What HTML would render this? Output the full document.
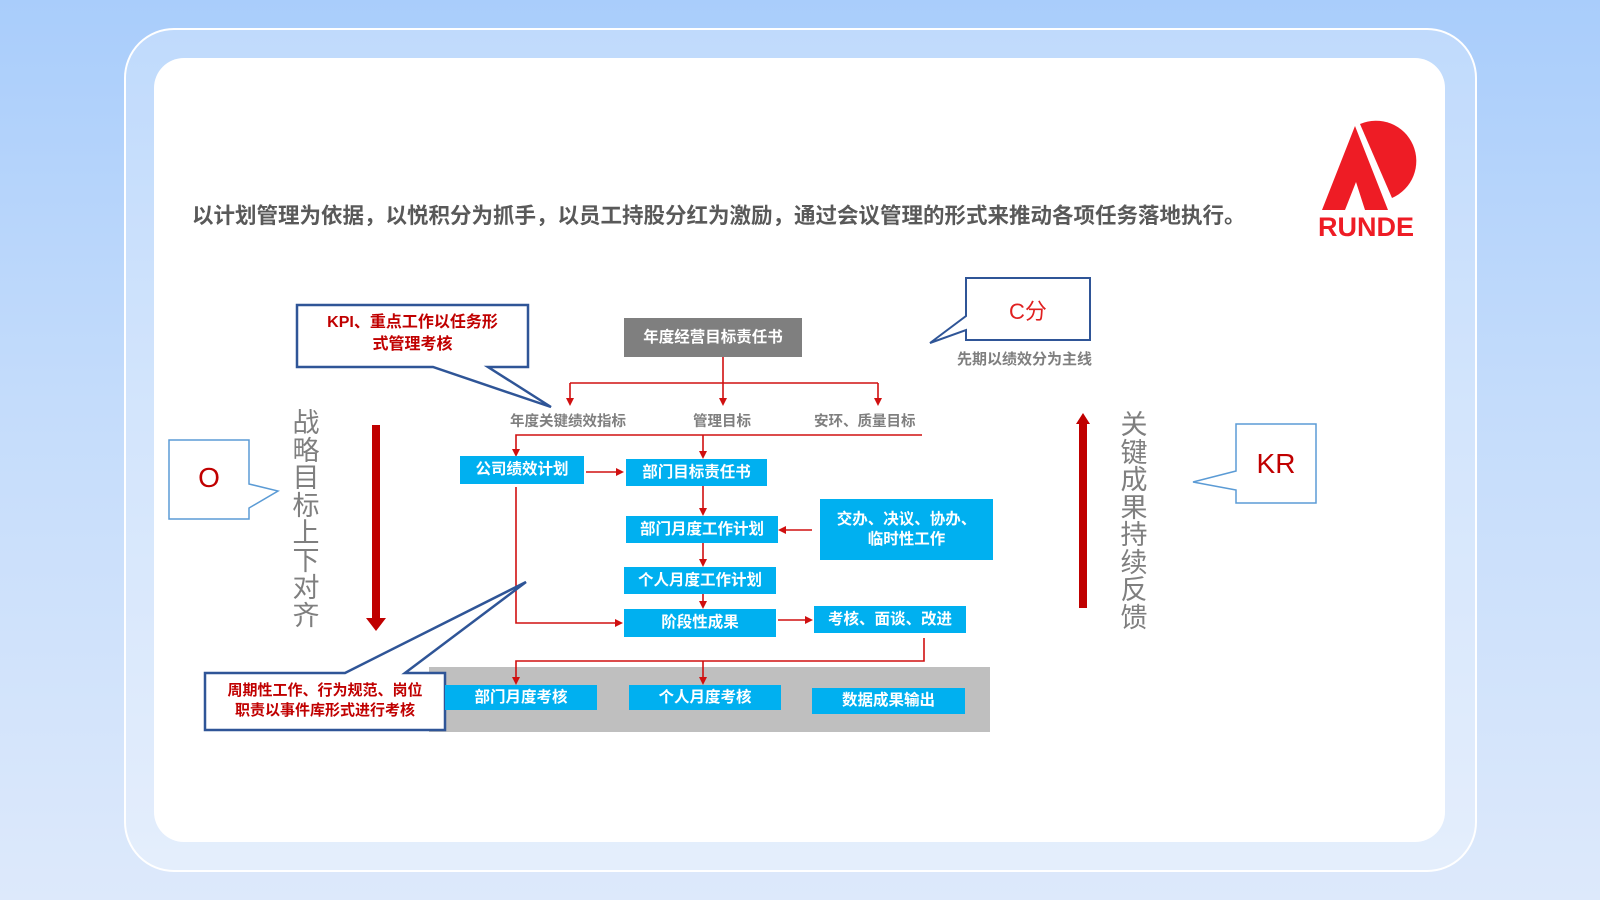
<!DOCTYPE html>
<html><head><meta charset="utf-8"><style>
*{margin:0;padding:0;box-sizing:border-box}
body{width:1600px;height:900px;overflow:hidden;position:relative;background:linear-gradient(180deg,#a9cdfb 0%,#c4dcfb 45%,#dde9fb 100%);font-family:"Liberation Sans","Noto Sans CJK SC",sans-serif}
.a{position:absolute}
.outer{left:124px;top:28px;width:1353px;height:844px;border:2px solid #fff;border-radius:50px;background:rgba(255,255,255,0.25)}
.inner{left:154px;top:58px;width:1291px;height:784px;border-radius:30px;background:#fff}
.b{position:absolute;background:#00b0f0;color:#fff;font-weight:bold;font-size:15.5px;display:flex;align-items:center;justify-content:center;text-align:center;line-height:20px}
.g{position:absolute;color:#7f7f7f;font-size:14.5px;font-weight:bold;white-space:nowrap}
.v{position:absolute;color:#7f7f7f;font-size:27px;line-height:27.5px;width:30px;text-align:center}
</style></head><body>
<div class="a outer"></div>
<div class="a inner"></div>
<div class="a" style="left:192px;top:199px;font-size:21.5px;font-weight:bold;color:#595959;white-space:nowrap">以计划管理为依据，以悦积分为抓手，以员工持股分红为激励，通过会议管理的形式来推动各项任务落地执行。</div>

<svg class="a" style="left:0;top:0" width="1600" height="900">
<defs><marker id="ar" markerWidth="8" markerHeight="8" refX="6" refY="4" orient="auto" markerUnits="userSpaceOnUse"><path d="M0,0 L8,4 L0,8 z" fill="#d01010"/></marker></defs>
<path d="M1355,126 L1322,210 L1345,210 L1356,182 L1365,210 L1388,210 Z" fill="#ee1c25"/>
<path d="M1360,124 A40,40 0 0 1 1392,198 Z" fill="#ee1c25"/>
<text x="1366" y="236" font-family="Liberation Sans" font-weight="bold" font-size="27" fill="#ee1c25" text-anchor="middle">RUNDE</text>
<rect x="429" y="667" width="561" height="65" fill="#bfbfbf"/>
<g stroke="#d01010" stroke-width="1.6" fill="none">
<path d="M723,357 V404" marker-end="url(#ar)"/>
<path d="M570,383 H878"/>
<path d="M570,383 V404" marker-end="url(#ar)"/>
<path d="M878,383 V404" marker-end="url(#ar)"/>
<path d="M922,435 H516 V455" marker-end="url(#ar)"/>
<path d="M703,435 V457" marker-end="url(#ar)"/>
<path d="M586,472 H622" marker-end="url(#ar)"/>
<path d="M703,486 V514" marker-end="url(#ar)"/>
<path d="M812,530 H780" marker-end="url(#ar)"/>
<path d="M703,543 V565" marker-end="url(#ar)"/>
<path d="M703,590 V607" marker-end="url(#ar)"/>
<path d="M516,487 V623 H621" marker-end="url(#ar)"/>
<path d="M778,620 H811" marker-end="url(#ar)"/>
<path d="M924,638 V661 H516 V683" marker-end="url(#ar)"/>
<path d="M703,661 V683" marker-end="url(#ar)"/>
</g>
<rect x="372" y="425" width="8" height="195" fill="#c00000"/><path d="M366,618 L386,618 L376,631 Z" fill="#c00000"/>
<rect x="1079" y="422" width="8" height="186" fill="#c00000"/><path d="M1076,424 L1090,424 L1083,413 Z" fill="#c00000"/>
<path d="M297,305 H528 V367 H488 L551,407 L433,367 H297 Z" fill="#fff" stroke="#2f5597" stroke-width="2.5"/>
<path d="M205,673 H345 L526,582 L405,673 H445 V730 H205 Z" fill="#fff" stroke="#2f5597" stroke-width="2.5"/>
<path d="M169,440 H249 V484 L278,491 L249,508 V519 H169 Z" fill="#fff" stroke="#5b9bd5" stroke-width="1.5"/>
<path d="M966,278 H1090 V340 H966 V330 L930,343 L966,316 Z" fill="#fff" stroke="#2f5597" stroke-width="2"/>
<path d="M1236,424 H1316 V503 H1236 V490 L1193,482 L1236,471 Z" fill="#fff" stroke="#5b9bd5" stroke-width="1.5"/>
</svg>

<div class="a" style="left:297px;top:312px;width:231px;text-align:center;color:#c00000;font-weight:bold;font-size:16px;line-height:22px">KPI、重点工作以任务形<br>式管理考核</div>
<div class="a" style="left:205px;top:681px;width:240px;text-align:center;color:#c00000;font-weight:bold;font-size:15px;line-height:20px">周期性工作、行为规范、岗位<br>职责以事件库形式进行考核</div>
<div class="a" style="left:169px;top:462px;width:80px;text-align:center;color:#c00000;font-size:28px">O</div>
<div class="a" style="left:966px;top:294px;width:124px;text-align:center;color:#e02020;font-size:22px">C分</div>
<div class="a" style="left:1236px;top:448px;width:80px;text-align:center;color:#c00000;font-size:28px">KR</div>
<div class="g" style="left:957px;top:348px;font-size:15px">先期以绩效分为主线</div>
<div class="v" style="left:291px;top:410px">战略目标上下对齐</div>
<div class="v" style="left:1119px;top:412px">关键成果持续反馈</div>

<div class="b" style="left:624px;top:318px;width:178px;height:39px;background:#7f7f7f">年度经营目标责任书</div>
<div class="g" style="left:510px;top:410px">年度关键绩效指标</div>
<div class="g" style="left:693px;top:410px">管理目标</div>
<div class="g" style="left:814px;top:410px">安环、质量目标</div>
<div class="b" style="left:460px;top:456px;width:124px;height:28px">公司绩效计划</div>
<div class="b" style="left:626px;top:459px;width:141px;height:27px">部门目标责任书</div>
<div class="b" style="left:626px;top:516px;width:152px;height:27px">部门月度工作计划</div>
<div class="b" style="left:820px;top:499px;width:173px;height:61px">交办、决议、协办、<br>临时性工作</div>
<div class="b" style="left:624px;top:567px;width:152px;height:27px">个人月度工作计划</div>
<div class="b" style="left:624px;top:609px;width:152px;height:28px">阶段性成果</div>
<div class="b" style="left:814px;top:606px;width:152px;height:27px">考核、面谈、改进</div>
<div class="b" style="left:445px;top:685px;width:152px;height:25px">部门月度考核</div>
<div class="b" style="left:629px;top:685px;width:152px;height:25px">个人月度考核</div>
<div class="b" style="left:812px;top:688px;width:153px;height:26px">数据成果输出</div>
</body></html>
